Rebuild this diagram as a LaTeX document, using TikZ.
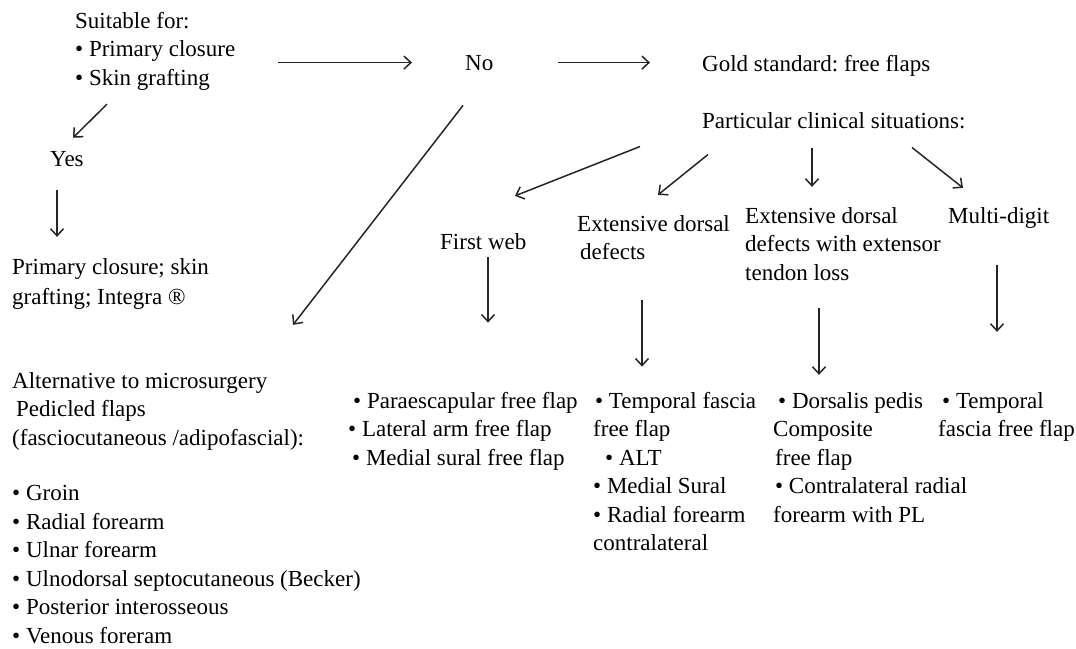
\documentclass[tikz,border=0pt]{standalone}
\usepackage{fontspec}
\setmainfont{Liberation Serif}
\frenchspacing
\usetikzlibrary{arrows.meta}
\tikzset{
  txt/.style={anchor=base west, inner sep=0pt, align=left, font=\fontsize{23}{28.5}\selectfont},
  arr/.style={-{Straight Barb[length=7pt,width=13pt]}, line width=1.5pt, black!85},
}
\begin{document}
\begin{tikzpicture}[x=1pt, y=-1pt]
\useasboundingbox (0,0) rectangle (1076,648);
% top row (nodes sit on the baseline of their last line)
\node[txt] (suit) at (75,85) {Suitable for:\\• Primary closure\\• Skin grafting};
\node[txt] (no) at (465,70) {No};
\node[txt] (gold) at (702,71) {Gold standard: free flaps};
\node[txt] (part) at (702,128) {Particular clinical situations:};
% left side
\node[txt] (yes) at (50,166) {Yes};
\node[txt] (prim) at (12,304) {Primary closure; skin\\[1.5pt]grafting; Integra ®};
\node[txt] (alt) at (12,445) {Alternative to microsurgery\\\hspace{4pt}Pedicled flaps\\(fasciocutaneous /adipofascial):};
\node[txt] (ped) at (12,643) {• Groin\\• Radial forearm\\• Ulnar forearm\\• Ulnodorsal septocutaneous (Becker)\\• Posterior interosseous\\• Venous foreram};
% clinical situations
\node[txt] (web) at (440,249) {First web};
\node[txt] (dors) at (577,259.5) {Extensive dorsal\\\hspace{3pt}defects};
\node[txt] (tend) at (745,280) {Extensive dorsal\\defects with extensor\\tendon loss};
\node[txt] (multi) at (948,223) {Multi-digit};
% flap lists
\node[txt] (weblist) at (348,465) {\hspace{5pt}• Paraescapular free flap\\• Lateral arm free flap\\\hspace{4pt}• Medial sural free flap};
\node[txt] (dorslist) at (593,550.5) {\hspace{2pt}• Temporal fascia\\free flap\\\hspace{12pt}• ALT\\• Medial Sural\\• Radial forearm\\contralateral};
\node[txt] (tendlist) at (773,522) {\hspace{5pt}• Dorsalis pedis\\Composite\\\hspace{2pt}free flap\\\hspace{2pt}• Contralateral radial\\forearm with PL};
\node[txt] (multilist) at (938,436.5) {\hspace{4pt}• Temporal\\fascia free flap};
% arrows
\draw[arr, shorten >=53pt] ([xshift=203pt]suit.base west |- no.west) -- (no.west);
\draw[arr, shorten <=64pt, shorten >=52pt] (no.east) -- (gold.west |- no.east);
\draw[arr] ([xshift=32pt,yshift=-14pt]suit.south west) -- ([xshift=23pt,yshift=13pt]yes.north west);
\draw[arr] ([xshift=7pt,yshift=-24pt]yes.south west) -- ([xshift=45pt,yshift=21pt]prim.north west);
\draw[arr] ([xshift=-2pt,yshift=-35pt]no.south west) -- ([xshift=281pt,yshift=47pt]alt.north west);
\draw[arr] ([xshift=-62pt,yshift=-18pt]part.south west) -- ([xshift=75pt,yshift=37pt]web.north west);
\draw[arr] ([xshift=6pt,yshift=-26pt]part.south west) -- ([xshift=81pt,yshift=20pt]dors.north west);
\draw[arr] ([xshift=110pt,yshift=-19pt]part.south west) -- ([xshift=67pt,yshift=20pt]tend.north west);
\draw[arr] ([xshift=210pt,yshift=-19pt]part.south west) -- ([xshift=15pt,yshift=19pt]multi.north west);
\draw[arr] ([xshift=48pt,yshift=-8pt]web.south west) -- ([xshift=140pt,yshift=69pt]weblist.north west);
\draw[arr] ([xshift=65pt,yshift=-40pt]dors.south west) -- ([xshift=49pt,yshift=25pt]dorslist.north west);
\draw[arr] ([xshift=74pt,yshift=-28pt]tend.south west) -- ([xshift=46pt,yshift=17pt]tendlist.north west);
\draw[arr] ([xshift=49pt,yshift=-37pt]multi.south west) -- ([xshift=59pt,yshift=60pt]multilist.north west);
\end{tikzpicture}
\end{document}
